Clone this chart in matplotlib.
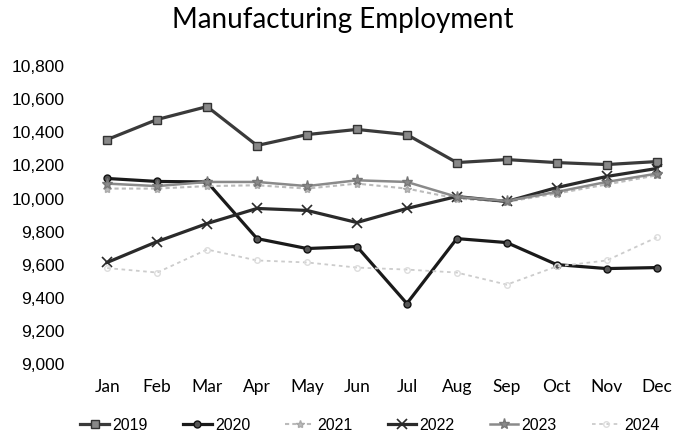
import matplotlib
matplotlib.use("Agg")
import matplotlib.pyplot as plt
from matplotlib.ticker import FuncFormatter

months = ["Jan", "Feb", "Mar", "Apr", "May", "Jun", "Jul", "Aug", "Sep", "Oct", "Nov", "Dec"]
y2019 = [10356, 10477, 10555, 10320, 10386, 10417, 10386, 10217, 10235, 10217, 10205, 10223]
y2020 = [10121, 10103, 10100, 9758, 9698, 9710, 9366, 9758, 9734, 9601, 9577, 9583]
y2021 = [10060, 10060, 10075, 10080, 10060, 10090, 10060, 10000, 9980, 10030, 10085, 10140]
y2022 = [9614, 9740, 9849, 9940, 9928, 9855, 9940, 10012, 9982, 10066, 10133, 10181]
y2023 = [10090, 10075, 10100, 10100, 10075, 10110, 10100, 10010, 9985, 10040, 10100, 10150]
y2024 = [9580, 9553, 9692, 9626, 9614, 9583, 9571, 9553, 9480, 9590, 9626, 9765]

fig = plt.figure(figsize=(6.85, 4.43), dpi=100)
ax = fig.add_axes([0.12, 0.178, 0.875, 0.673])
x = list(range(len(months)))

ax.plot(x, y2019, color="#3a3a3a", lw=2.3, marker="s", ms=6, mfc="#888888", mec="#333333", label="2019")
ax.plot(x, y2020, color="#1a1a1a", lw=2.3, marker="o", ms=5, mfc="#555555", mec="#111111", label="2020")
ax.plot(x, y2021, color="#bbbbbb", lw=1.5, ls=(0, (2, 1.5)), marker="*", ms=6, mec="#aaaaaa", label="2021")
ax.plot(x, y2022, color="#2a2a2a", lw=2.3, marker="x", ms=7, mew=1.2, label="2022")
ax.plot(x, y2023, color="#8a8a8a", lw=1.8, marker="*", ms=8, mec="#777777", label="2023")
ax.plot(x, y2024, color="#cccccc", lw=1.3, ls=(0, (2, 2)), marker="o", ms=4, mfc="none", mec="#dddddd", label="2024")

ax.set_xlim(-0.5, 11.5)
ax.set_ylim(9000, 10800)
ax.set_yticks(range(9000, 10801, 200))
ax.yaxis.set_major_formatter(FuncFormatter(lambda v, p: f"{int(v):,}"))
ax.set_xticks(x)
ax.set_xticklabels(months, fontfamily="Lato", fontsize=12.5)
for lbl in ax.get_yticklabels():
    lbl.set_fontfamily("Liberation Sans")
    lbl.set_fontsize(12.5)
ax.tick_params(axis="x", length=0, pad=11)
ax.tick_params(axis="y", length=0, pad=13)
for s in ax.spines.values():
    s.set_visible(False)

fig.suptitle("Manufacturing Employment", fontfamily="Lato", fontsize=20, y=0.985)
fig.legend(loc="lower center", bbox_to_anchor=(0.54, -0.01), ncol=6, frameon=False,
           prop={"family": "Liberation Sans", "size": 11.5}, handlelength=1.8,
           handletextpad=0.2, columnspacing=2.2)

fig.savefig("out.png", dpi=100)
